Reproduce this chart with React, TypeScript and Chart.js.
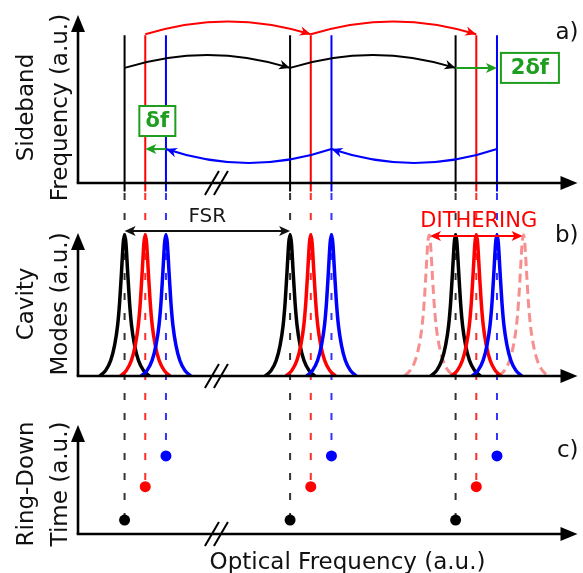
import React, { useEffect, useRef } from 'react';
import { Chart, registerables } from 'chart.js';

Chart.register(...registerables);

// ---------------- data (optical frequency in FSR units) ----------------
const blackModes = [1, 2, 3];
const redModes = [1.125, 2.125, 3.125];
const blueModes = [1.25, 2.25, 3.25];

// panel a) sideband frequency markers (a.u.)
const sidebandBottom = [-0.05, -0.05, -0.05];
const sidebandTop = [0.88, 0.88, 0.88];

// panel b) cavity mode line profile (offset from centre, relative height)
const profileOffsets = [-0.15, -0.114, -0.084, -0.06, -0.042, -0.03, -0.018, -0.008, 0, 0.008, 0.018, 0.03, 0.042, 0.06, 0.084, 0.114, 0.15];
const profileHeights = [0, 0.04, 0.11, 0.22, 0.36, 0.52, 0.75, 0.945, 1, 0.945, 0.75, 0.52, 0.36, 0.22, 0.11, 0.04, 0];
const ditherCentres = [2.84, 3.41];

// panel c) ring-down times (a.u.)
const ringDownBlack = [0.128, 0.128, 0.128];
const ringDownRed = [0.434, 0.434, 0.434];
const ringDownBlue = [0.716, 0.716, 0.716];

// panel a) hops between modes
const blackHops = [[1, 2], [2, 3]];
const redHops = [[1.125, 2.125], [2.125, 3.125]];
const blueHops = [[3.25, 2.25], [2.25, 1.25]];
const blackHopLevel = 0.685;
const blackHopApex = 0.762;
const redHopLevel = 0.885;
const redHopApex = 0.962;
const blueHopLevel = 0.202;
const blueHopApex = 0.119;
const deltaSpan = [1.25, 1.125];
const twoDeltaSpan = [3, 3.25];

// panel b) spans
const fsrSpan = [1, 2];
const ditherSpan = [2.845, 3.405];

// ---------------- layout / style constants ----------------
const X_MIN = 0.7186;
const X_MAX = 3.7365;
const YA_MAX = 1;
const YB_MAX = 1.369;
const YC_MAX = 1.4495;
const TIP_A = 1;
const TIP_B = 1.014;
const TIP_C = 1;
const BREAK_AT = 1.555;
const CONNECTOR_TOP = -0.06;

const FONT = "'DejaVu Sans', 'Liberation Sans', Arial, sans-serif";
const BLACK = '#000000';
const RED = '#ff0000';
const BLUE = '#0000ff';
const GREEN = '#1e9e1e';
const DITHER = 'rgba(244, 100, 100, 0.72)';
const TEXT = '#111111';

function head(ctx: CanvasRenderingContext2D, x: number, y: number, ang: number, len: number, hw: number, notch: number, color: string) {
  ctx.save();
  ctx.translate(x, y);
  ctx.rotate(ang);
  ctx.beginPath();
  ctx.moveTo(0, 0);
  ctx.lineTo(-len, -hw);
  ctx.lineTo(-len * notch, 0);
  ctx.lineTo(-len, hw);
  ctx.closePath();
  ctx.fillStyle = color;
  ctx.fill();
  ctx.restore();
}

function seg(ctx: CanvasRenderingContext2D, x0: number, y0: number, x1: number, y1: number) {
  ctx.beginPath();
  ctx.moveTo(x0, y0);
  ctx.lineTo(x1, y1);
  ctx.stroke();
}

function hop(ctx: CanvasRenderingContext2D, x0: number, x1: number, y: number, yApex: number, color: string, lw: number) {
  const cx = (x0 + x1) / 2;
  const cy = 2 * yApex - y;
  ctx.strokeStyle = color;
  ctx.lineWidth = lw;
  ctx.beginPath();
  ctx.moveTo(x0, y);
  ctx.quadraticCurveTo(cx, cy, x1, y);
  ctx.stroke();
  head(ctx, x1, y, Math.atan2(y - cy, x1 - cx), 11, 4.8, 0.7, color);
}

function straightArrow(ctx: CanvasRenderingContext2D, x0: number, x1: number, y: number, color: string, both: boolean) {
  ctx.strokeStyle = color;
  ctx.lineWidth = 2;
  const dir = Math.sign(x1 - x0);
  seg(ctx, both ? x0 + dir * 5 : x0, y, x1 - dir * 5, y);
  head(ctx, x1, y, dir > 0 ? 0 : Math.PI, 11, 5, 0.75, color);
  if (both) head(ctx, x0, y, dir > 0 ? Math.PI : 0, 11, 5, 0.75, color);
}

const diagramPlugin = {
  id: 'diagram',
  beforeDatasetsDraw(chart: any) {
    const { ctx } = chart;
    const s = chart.scales;
    ctx.save();
    ctx.lineWidth = 2;
    ctx.setLineDash([7, 13]);
    const sets: [number[], number[], string][] = [
      [blackModes, ringDownBlack, '#333333'],
      [redModes, ringDownRed, '#ff2a2a'],
      [blueModes, ringDownBlue, '#3333ff'],
    ];
    sets.forEach(([modes, rd, col]) => {
      ctx.strokeStyle = col;
      modes.forEach((m, i) => {
        const px = s.x.getPixelForValue(m);
        seg(ctx, px, s.ya.getPixelForValue(CONNECTOR_TOP), px, s.yc.getPixelForValue(rd[i]));
      });
    });
    ctx.restore();
  },
  afterDatasetsDraw(chart: any) {
    const { ctx, chartArea } = chart;
    const s = chart.scales;
    const X = (v: number) => s.x.getPixelForValue(v);
    ctx.save();
    ctx.setLineDash([]);

    // axes with arrows and break marks
    const panels: [any, number][] = [[s.ya, TIP_A], [s.yb, TIP_B], [s.yc, TIP_C]];
    panels.forEach(([sc, tipVal]) => {
      const base = sc.getPixelForValue(0);
      const tip = sc.getPixelForValue(tipVal);
      const left = chartArea.left;
      const right = chartArea.right;
      ctx.strokeStyle = BLACK;
      ctx.lineWidth = 2.6;
      seg(ctx, left - 1.3, base, right - 12, base);
      head(ctx, right, base, 0, 17, 7, 1, BLACK);
      seg(ctx, left, base, left, tip + 12);
      head(ctx, left, tip, -Math.PI / 2, 17, 7, 1, BLACK);
      const bx = X(BREAK_AT);
      ctx.lineWidth = 2;
      [-4.5, 4.5].forEach((off) => seg(ctx, bx + off - 7, base + 12, bx + off + 7, base - 12));
    });

    // panel a hops
    const ya = (v: number) => s.ya.getPixelForValue(v);
    blackHops.forEach(([a, b]) => hop(ctx, X(a), X(b), ya(blackHopLevel), ya(blackHopApex), BLACK, 1.8));
    redHops.forEach(([a, b]) => hop(ctx, X(a), X(b), ya(redHopLevel), ya(redHopApex), RED, 2));
    blueHops.forEach(([a, b]) => hop(ctx, X(a), X(b), ya(blueHopLevel), ya(blueHopApex), BLUE, 2));
    straightArrow(ctx, X(deltaSpan[0]), X(deltaSpan[1]), ya(blueHopLevel), GREEN, false);
    straightArrow(ctx, X(twoDeltaSpan[0]), X(twoDeltaSpan[1]), ya(blackHopLevel), GREEN, false);

    // green label boxes
    const boxes: [string, number, number, number, number][] = [
      ['δf', 1.198, 0.369, 36, 30],
      ['2δf', 3.449, 0.685, 58, 30],
    ];
    boxes.forEach(([txt, bxv, byv, w, h]) => {
      const cx = X(bxv);
      const cy = ya(byv);
      ctx.fillStyle = '#ffffff';
      ctx.fillRect(cx - w / 2, cy - h / 2, w, h);
      ctx.strokeStyle = GREEN;
      ctx.lineWidth = 2;
      ctx.strokeRect(cx - w / 2, cy - h / 2, w, h);
      ctx.fillStyle = GREEN;
      ctx.font = `bold 21px ${FONT}`;
      ctx.textAlign = 'center';
      ctx.textBaseline = 'middle';
      ctx.fillText(txt, cx, cy + 1);
    });

    // panel b spans
    const yb = (v: number) => s.yb.getPixelForValue(v);
    straightArrow(ctx, X(fsrSpan[0]), X(fsrSpan[1]), yb(1.028), '#111111', true);
    straightArrow(ctx, X(ditherSpan[0]), X(ditherSpan[1]), yb(0.993), RED, true);
    ctx.textAlign = 'center';
    ctx.textBaseline = 'middle';
    ctx.fillStyle = '#1a1a1a';
    ctx.font = `20px ${FONT}`;
    ctx.fillText('FSR', X(1.5), yb(1.13));
    ctx.fillStyle = RED;
    ctx.font = `21px ${FONT}`;
    ctx.fillText('DITHERING', X(3.14), yb(1.095));

    // panel letters
    ctx.fillStyle = TEXT;
    ctx.font = `23px ${FONT}`;
    ctx.textAlign = 'right';
    ctx.fillText('a)', chartArea.right + 1, s.ya.getPixelForValue(0.89));
    ctx.fillText('b)', chartArea.right + 1, s.yb.getPixelForValue(0.99));
    ctx.fillText('c)', chartArea.right + 1, s.yc.getPixelForValue(0.76));

    // axis titles
    const titles: [any, number, string[]][] = [
      [s.ya, 0.449, ['Sideband', 'Frequency (a.u.)']],
      [s.yb, 0.511, ['Cavity', 'Modes (a.u.)']],
      [s.yc, 0.459, ['Ring-Down', 'Time (a.u.)']],
    ];
    ctx.font = `23px ${FONT}`;
    ctx.textAlign = 'center';
    ctx.textBaseline = 'alphabetic';
    titles.forEach(([sc, v, lines]) => {
      const cy = sc.getPixelForValue(v);
      lines.forEach((t, i) => {
        ctx.save();
        ctx.translate(chartArea.left - 45 + i * 34, cy);
        ctx.rotate(-Math.PI / 2);
        ctx.fillText(t, 0, 0);
        ctx.restore();
      });
    });
    ctx.fillText('Optical Frequency (a.u.)', X(2.347), chartArea.bottom + 35);
    ctx.restore();
  },
};

function markerData(modes: number[]) {
  const out: { x: number; y: number | null }[] = [];
  modes.forEach((m, i) => {
    out.push({ x: m, y: sidebandBottom[i] }, { x: m, y: sidebandTop[i] }, { x: m, y: null });
  });
  return out;
}

function peakData(c: number) {
  return profileOffsets.map((o, i) => ({ x: c + o, y: profileHeights[i] }));
}

function dots(modes: number[], vals: number[]) {
  return modes.map((m, i) => ({ x: m, y: vals[i] }));
}

export default function App() {
  const ref = useRef<HTMLCanvasElement>(null);
  useEffect(() => {
    const canvas = ref.current!;
    const peakBase = { yAxisID: 'yb', pointRadius: 0, fill: false, clip: false as any, cubicInterpolationMode: 'monotone' as const, borderWidth: 3.5 };
    const dotBase = { yAxisID: 'yc', showLine: false, pointRadius: 5.5, pointBorderWidth: 0, order: 0, clip: false };
    const datasets: any[] = [
      { ...dotBase, data: dots(blackModes, ringDownBlack), pointBackgroundColor: BLACK },
      { ...dotBase, data: dots(redModes, ringDownRed), pointBackgroundColor: RED },
      { ...dotBase, data: dots(blueModes, ringDownBlue), pointBackgroundColor: BLUE },
      ...blueModes.map((c) => ({ ...peakBase, data: peakData(c), borderColor: BLUE, order: 1 })),
      ...redModes.map((c) => ({ ...peakBase, data: peakData(c), borderColor: RED, order: 2 })),
      ...blackModes.map((c) => ({ ...peakBase, data: peakData(c), borderColor: BLACK, order: 3 })),
      ...ditherCentres.map((c) => ({ ...peakBase, borderWidth: 3, data: peakData(c), borderColor: DITHER, borderDash: [9, 5], order: 4 })),
      { data: markerData(blackModes), yAxisID: 'ya', borderColor: BLACK, borderWidth: 2, pointRadius: 0, tension: 0, order: 5, clip: false },
      { data: markerData(redModes), yAxisID: 'ya', borderColor: RED, borderWidth: 2, pointRadius: 0, tension: 0, order: 5, clip: false },
      { data: markerData(blueModes), yAxisID: 'ya', borderColor: BLUE, borderWidth: 2, pointRadius: 0, tension: 0, order: 5, clip: false },
    ];
    const chart = new Chart(canvas, {
      type: 'line',
      data: { datasets },
      options: {
        animation: false,
        responsive: false,
        devicePixelRatio: 1,
        events: [],
        layout: { padding: { left: 78, right: 1, top: 15, bottom: 39 } },
        plugins: { legend: { display: false }, tooltip: { enabled: false } },
        scales: {
          x: { type: 'linear', min: X_MIN, max: X_MAX, display: false },
          ya: { type: 'linear', position: 'left', stack: 'panels', stackWeight: 168, weight: 3, min: 0, max: YA_MAX, display: false },
          yb: { type: 'linear', position: 'left', stack: 'panels', stackWeight: 193, weight: 2, min: 0, max: YB_MAX, display: false },
          yc: { type: 'linear', position: 'left', stack: 'panels', stackWeight: 158, weight: 1, min: 0, max: YC_MAX, display: false },
        },
      } as any,
      plugins: [diagramPlugin],
    });
    return () => chart.destroy();
  }, []);
  return (
    <div style={{ position: 'absolute', left: 0, top: 0, width: 583, height: 573, background: '#ffffff' }}>
      <canvas ref={ref} width={583} height={573} style={{ display: 'block', width: 583, height: 573 }} />
    </div>
  );
}
